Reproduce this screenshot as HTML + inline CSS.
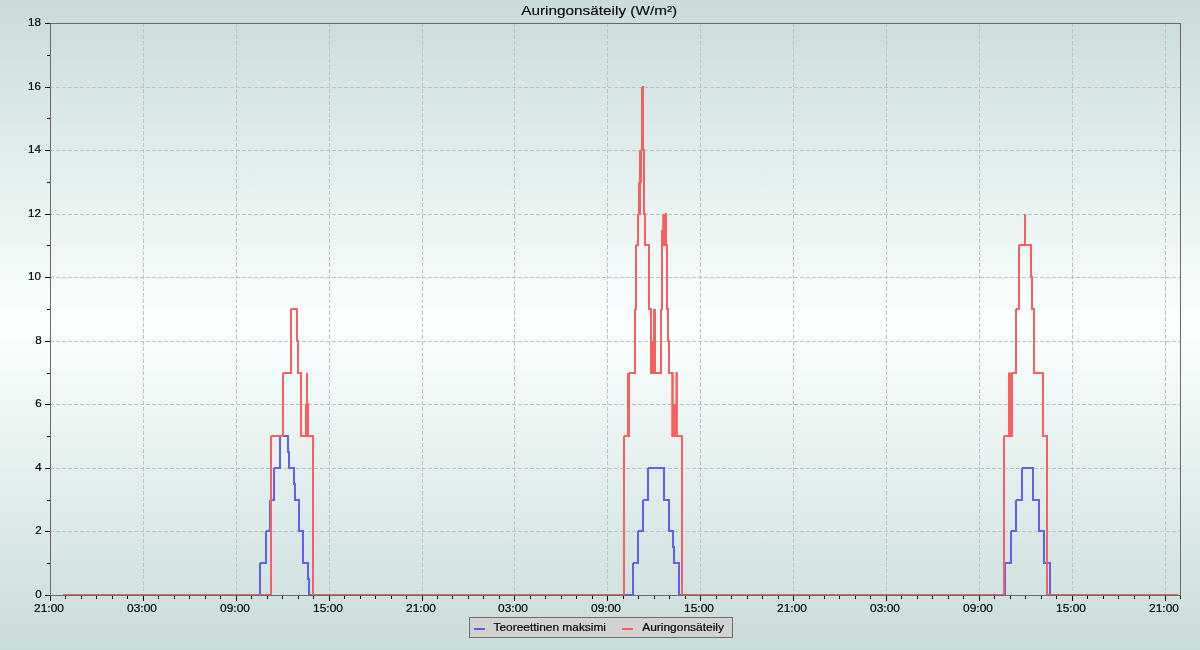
<!DOCTYPE html>
<html><head><meta charset="utf-8"><title>Auringonsäteily</title>
<style>html,body{margin:0;padding:0;background:#fff;}body{width:1200px;height:650px;overflow:hidden;}svg{display:block;will-change:transform;}</style>
</head><body>
<svg width="1200" height="650" viewBox="0 0 1200 650">
<defs><linearGradient id="bg" gradientUnits="userSpaceOnUse" x1="0" y1="0" x2="0" y2="650">
<stop offset="0" stop-color="#c8dcda"/><stop offset="0.5000" stop-color="#faffff"/><stop offset="1" stop-color="#c8dcda"/>
</linearGradient></defs>
<rect x="0" y="0" width="1200" height="650" fill="url(#bg)"/>
<g>
<path d="M50,531.5H1180M50,468.5H1180M50,404.5H1180M50,341.5H1180M50,277.5H1180M50,214.5H1180M50,150.5H1180M50,87.5H1180" stroke="#c0c0c0" stroke-width="1" stroke-dasharray="4 2" fill="none" shape-rendering="crispEdges"/>
<path d="M143.5,23V595M236.5,23V595M329.5,23V595M422.5,23V595M514.5,23V595M607.5,23V595M700.5,23V595M793.5,23V595M886.5,23V595M979.5,23V595M1072.5,23V595M1165.5,23V595" stroke="#c0c0c0" stroke-width="1" stroke-dasharray="4 2" fill="none" shape-rendering="crispEdges"/>
</g>
<path d="M45,595.5H50M47,563.5H50M45,531.5H50M47,500.5H50M45,468.5H50M47,436.5H50M45,404.5H50M47,373.5H50M45,341.5H50M47,309.5H50M45,277.5H50M47,245.5H50M45,214.5H50M47,182.5H50M45,150.5H50M47,118.5H50M45,87.5H50M47,55.5H50M45,23.5H50M50.5,595V601M65.5,596V599M81.5,596V599M96.5,596V599M112.5,596V599M127.5,596V599M143.5,595V601M158.5,596V599M174.5,596V599M189.5,596V599M205.5,596V599M220.5,596V599M236.5,595V601M251.5,596V599M267.5,596V599M282.5,596V599M298.5,596V599M313.5,596V599M329.5,595V601M344.5,596V599M360.5,596V599M375.5,596V599M391.5,596V599M406.5,596V599M422.5,595V601M437.5,596V599M452.5,596V599M468.5,596V599M483.5,596V599M499.5,596V599M514.5,595V601M530.5,596V599M545.5,596V599M561.5,596V599M576.5,596V599M592.5,596V599M607.5,595V601M623.5,596V599M638.5,596V599M654.5,596V599M669.5,596V599M685.5,596V599M700.5,595V601M716.5,596V599M731.5,596V599M747.5,596V599M762.5,596V599M778.5,596V599M793.5,595V601M809.5,596V599M824.5,596V599M839.5,596V599M855.5,596V599M870.5,596V599M886.5,595V601M901.5,596V599M917.5,596V599M932.5,596V599M948.5,596V599M963.5,596V599M979.5,595V601M994.5,596V599M1010.5,596V599M1025.5,596V599M1041.5,596V599M1056.5,596V599M1072.5,595V601M1087.5,596V599M1103.5,596V599M1118.5,596V599M1134.5,596V599M1149.5,596V599M1165.5,595V601M1180.5,596V599" stroke="#000" stroke-width="1" fill="none" shape-rendering="crispEdges"/>
<path d="M63,594H261V596H63ZM259,563H261V596H259ZM260,562H267V564H260ZM265,531H267V564H265ZM266,530H271V532H266ZM269,500H271V532H269ZM270,499H275V501H270ZM273,468H275V501H273ZM274,467H281V469H274ZM279,436H281V469H279ZM280,435H289V437H280ZM287,436H289V453H287ZM288,451H290V453H288ZM288,452H290V469H288ZM289,467H295V469H289ZM293,468H295V485H293ZM294,483H296V485H294ZM294,484H296V501H294ZM295,499H300V501H295ZM298,500H300V532H298ZM299,530H304V532H299ZM302,531H304V564H302ZM303,562H309V564H303ZM307,563H309V580H307ZM308,578H310V580H308ZM308,579H310V596H308ZM309,594H634V596H309ZM632,563H634V596H632ZM633,562H639V564H633ZM637,531H639V564H637ZM638,530H644V532H638ZM642,500H644V532H642ZM643,499H649V501H643ZM647,468H649V501H647ZM648,467H665V469H648ZM663,468H665V501H663ZM664,499H670V501H664ZM668,500H670V532H668ZM669,530H674V532H669ZM672,531H674V548H672ZM673,546H675V548H673ZM673,547H675V564H673ZM674,562H680V564H674ZM678,563H680V596H678ZM679,594H1006V596H679ZM1004,563H1006V596H1004ZM1005,562H1012V564H1005ZM1010,531H1012V564H1010ZM1011,530H1017V532H1011ZM1015,500H1017V532H1015ZM1016,499H1023V501H1016ZM1021,468H1023V501H1021ZM1022,467H1034V469H1022ZM1032,468H1034V501H1032ZM1033,499H1040V501H1033ZM1038,500H1040V532H1038ZM1039,530H1045V532H1039ZM1043,531H1045V564H1043ZM1044,562H1051V564H1044ZM1049,563H1051V596H1049ZM1050,594H1178V596H1050Z" fill="#5f5ff8" shape-rendering="crispEdges"/>
<path d="M63,594H272V596H63ZM270,436H272V596H270ZM271,435H284V437H271ZM282,373H284V437H282ZM283,372H292V374H283ZM290,309H292V374H290ZM291,308H298V310H291ZM296,309H298V342H296ZM297,340H299V342H297ZM297,341H299V374H297ZM298,372H302V374H298ZM300,373H302V437H300ZM301,435H307V437H301ZM305,404H307V437H305ZM306,403H308V405H306ZM306,373H308V405H306ZM307,403H309V405H307ZM307,404H309V437H307ZM308,435H314V437H308ZM312,436H314V596H312ZM313,594H625V596H313ZM623,436H625V596H623ZM624,435H629V437H624ZM627,373H629V437H627ZM628,373H630V437H628ZM629,372H636V374H629ZM634,309H636V374H634ZM635,308H637V310H635ZM635,245H637V310H635ZM636,244H639V246H636ZM637,214H639V246H637ZM638,213H640V215H638ZM638,182H640V215H638ZM639,181H641V183H639ZM639,150H641V183H639ZM639,182H641V215H639ZM640,150H642V183H640ZM641,149H643V151H641ZM641,87H643V151H641ZM642,86H644V88H642ZM642,87H644V151H642ZM643,149H645V151H643ZM643,150H645V215H643ZM644,213H646V215H644ZM644,214H646V246H644ZM645,244H650V246H645ZM648,245H650V310H648ZM649,308H652V310H649ZM650,309H652V374H650ZM651,372H654V374H651ZM652,341H654V374H652ZM653,372H655V374H653ZM653,309H655V374H653ZM654,372H656V374H654ZM654,309H656V374H654ZM655,372H662V374H655ZM660,309H662V374H660ZM661,308H663V310H661ZM661,245H663V310H661ZM662,244H668V246H662ZM666,245H668V310H666ZM667,308H669V310H667ZM667,309H669V342H667ZM668,340H670V342H668ZM668,341H670V374H668ZM669,372H673V374H669ZM672,435H683V437H672ZM681,436H683V596H681ZM682,594H1005V596H682ZM1003,436H1005V596H1003ZM1004,435H1013V437H1004ZM1012,372H1017V374H1012ZM1015,309H1017V374H1015ZM1016,308H1020V310H1016ZM1018,245H1020V310H1018ZM1019,244H1026V246H1019ZM1024,214H1026V246H1024ZM1025,244H1032V246H1025ZM1030,245H1032V278H1030ZM1031,276H1033V278H1031ZM1031,277H1033V310H1031ZM1032,308H1035V310H1032ZM1033,309H1035V374H1033ZM1034,372H1044V374H1034ZM1042,373H1044V437H1042ZM1043,435H1048V437H1043ZM1046,436H1048V596H1046ZM1047,594H1178V596H1047Z" fill="#f85f5f" shape-rendering="crispEdges"/>
<path d="M671.25,372H673.75V437H671.25ZM673.75,404H675.4V437H673.75ZM675.4,372.1H677.9V437H675.4ZM661,246V230H662.2V214H665V212.8H667V246ZM1008,437V372.4H1013V437Z" fill="#f85f5f" stroke="none"/>
<path d="M50.5,23.5H1180.5V595.5H50.5Z" stroke="#6a6a6a" stroke-width="1" fill="none" shape-rendering="crispEdges"/>
<text x="521.2" y="14.8" font-size="12.6" text-anchor="start" textLength="156" lengthAdjust="spacingAndGlyphs" font-family="Liberation Sans, sans-serif" fill="#000" stroke="#000" stroke-width="0.1">Auringonsäteily (W/m²)</text>
<text x="35.3" y="598.1" font-size="10.6" text-anchor="start" textLength="6.45" lengthAdjust="spacingAndGlyphs" font-family="Liberation Sans, sans-serif" fill="#000" stroke="#000" stroke-width="0.18">0</text>
<text x="35.3" y="534.1" font-size="10.6" text-anchor="start" textLength="6.45" lengthAdjust="spacingAndGlyphs" font-family="Liberation Sans, sans-serif" fill="#000" stroke="#000" stroke-width="0.18">2</text>
<text x="35.3" y="471.1" font-size="10.6" text-anchor="start" textLength="6.45" lengthAdjust="spacingAndGlyphs" font-family="Liberation Sans, sans-serif" fill="#000" stroke="#000" stroke-width="0.18">4</text>
<text x="35.3" y="407.1" font-size="10.6" text-anchor="start" textLength="6.45" lengthAdjust="spacingAndGlyphs" font-family="Liberation Sans, sans-serif" fill="#000" stroke="#000" stroke-width="0.18">6</text>
<text x="35.3" y="344.1" font-size="10.6" text-anchor="start" textLength="6.45" lengthAdjust="spacingAndGlyphs" font-family="Liberation Sans, sans-serif" fill="#000" stroke="#000" stroke-width="0.18">8</text>
<text x="27.95" y="280.1" font-size="10.6" text-anchor="start" textLength="12.9" lengthAdjust="spacingAndGlyphs" font-family="Liberation Sans, sans-serif" fill="#000" stroke="#000" stroke-width="0.18">10</text>
<text x="27.95" y="217.1" font-size="10.6" text-anchor="start" textLength="12.9" lengthAdjust="spacingAndGlyphs" font-family="Liberation Sans, sans-serif" fill="#000" stroke="#000" stroke-width="0.18">12</text>
<text x="27.95" y="153.1" font-size="10.6" text-anchor="start" textLength="12.9" lengthAdjust="spacingAndGlyphs" font-family="Liberation Sans, sans-serif" fill="#000" stroke="#000" stroke-width="0.18">14</text>
<text x="27.95" y="90.1" font-size="10.6" text-anchor="start" textLength="12.9" lengthAdjust="spacingAndGlyphs" font-family="Liberation Sans, sans-serif" fill="#000" stroke="#000" stroke-width="0.18">16</text>
<text x="27.95" y="26.1" font-size="10.6" text-anchor="start" textLength="12.9" lengthAdjust="spacingAndGlyphs" font-family="Liberation Sans, sans-serif" fill="#000" stroke="#000" stroke-width="0.18">18</text>
<text x="34.1" y="612" font-size="10.6" text-anchor="start" textLength="29.8" lengthAdjust="spacingAndGlyphs" font-family="Liberation Sans, sans-serif" fill="#000" stroke="#000" stroke-width="0.18">21:00</text>
<text x="127.1" y="612" font-size="10.6" text-anchor="start" textLength="29.8" lengthAdjust="spacingAndGlyphs" font-family="Liberation Sans, sans-serif" fill="#000" stroke="#000" stroke-width="0.18">03:00</text>
<text x="220.1" y="612" font-size="10.6" text-anchor="start" textLength="29.8" lengthAdjust="spacingAndGlyphs" font-family="Liberation Sans, sans-serif" fill="#000" stroke="#000" stroke-width="0.18">09:00</text>
<text x="313.1" y="612" font-size="10.6" text-anchor="start" textLength="29.8" lengthAdjust="spacingAndGlyphs" font-family="Liberation Sans, sans-serif" fill="#000" stroke="#000" stroke-width="0.18">15:00</text>
<text x="406.1" y="612" font-size="10.6" text-anchor="start" textLength="29.8" lengthAdjust="spacingAndGlyphs" font-family="Liberation Sans, sans-serif" fill="#000" stroke="#000" stroke-width="0.18">21:00</text>
<text x="498.1" y="612" font-size="10.6" text-anchor="start" textLength="29.8" lengthAdjust="spacingAndGlyphs" font-family="Liberation Sans, sans-serif" fill="#000" stroke="#000" stroke-width="0.18">03:00</text>
<text x="591.1" y="612" font-size="10.6" text-anchor="start" textLength="29.8" lengthAdjust="spacingAndGlyphs" font-family="Liberation Sans, sans-serif" fill="#000" stroke="#000" stroke-width="0.18">09:00</text>
<text x="684.1" y="612" font-size="10.6" text-anchor="start" textLength="29.8" lengthAdjust="spacingAndGlyphs" font-family="Liberation Sans, sans-serif" fill="#000" stroke="#000" stroke-width="0.18">15:00</text>
<text x="777.1" y="612" font-size="10.6" text-anchor="start" textLength="29.8" lengthAdjust="spacingAndGlyphs" font-family="Liberation Sans, sans-serif" fill="#000" stroke="#000" stroke-width="0.18">21:00</text>
<text x="870.1" y="612" font-size="10.6" text-anchor="start" textLength="29.8" lengthAdjust="spacingAndGlyphs" font-family="Liberation Sans, sans-serif" fill="#000" stroke="#000" stroke-width="0.18">03:00</text>
<text x="963.1" y="612" font-size="10.6" text-anchor="start" textLength="29.8" lengthAdjust="spacingAndGlyphs" font-family="Liberation Sans, sans-serif" fill="#000" stroke="#000" stroke-width="0.18">09:00</text>
<text x="1056.1" y="612" font-size="10.6" text-anchor="start" textLength="29.8" lengthAdjust="spacingAndGlyphs" font-family="Liberation Sans, sans-serif" fill="#000" stroke="#000" stroke-width="0.18">15:00</text>
<text x="1149.1" y="612" font-size="10.6" text-anchor="start" textLength="29.8" lengthAdjust="spacingAndGlyphs" font-family="Liberation Sans, sans-serif" fill="#000" stroke="#000" stroke-width="0.18">21:00</text>
<rect x="469.5" y="617.5" width="263" height="20" fill="#d2d2d2" stroke="#6e6e6e" stroke-width="1" shape-rendering="crispEdges"/>
<path d="M474,629H485" stroke="#5f5ff8" stroke-width="2"/>
<path d="M622,629H633" stroke="#f85f5f" stroke-width="2"/>
<text x="493.5" y="630.6" font-size="10.6" text-anchor="start" textLength="112.5" lengthAdjust="spacingAndGlyphs" font-family="Liberation Sans, sans-serif" fill="#000" stroke="#000" stroke-width="0.18">Teoreettinen maksimi</text>
<text x="642.2" y="630.6" font-size="10.6" text-anchor="start" textLength="81.8" lengthAdjust="spacingAndGlyphs" font-family="Liberation Sans, sans-serif" fill="#000" stroke="#000" stroke-width="0.18">Auringonsäteily</text>
</svg>
</body></html>
